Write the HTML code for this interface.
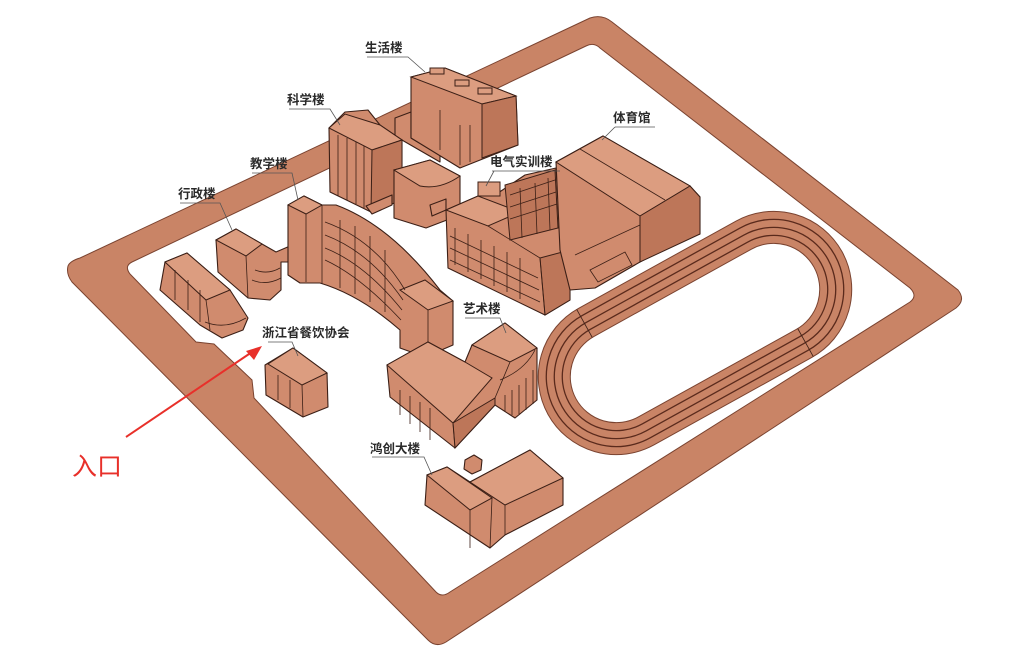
<!DOCTYPE html>
<html><head><meta charset="utf-8"><style>
html,body{margin:0;padding:0;background:#fff;}
svg{display:block;}
.l{font-family:"Liberation Sans","Noto Sans CJK SC",sans-serif;font-size:12.5px;font-weight:bold;fill:#2a2a2a;}
.b{fill:#d08b6e;stroke:#3b1f16;stroke-width:1.1;stroke-linejoin:round;}
.t{fill:#dc9d80;stroke:#3b1f16;stroke-width:1;}
.d{fill:#bd7659;stroke:#3b1f16;stroke-width:1;}
.ln{stroke:#3b1f16;stroke-width:0.8;fill:none;}
.ld{stroke:#555;stroke-width:0.8;fill:none;}
</style></head><body>
<svg width="1024" height="656" viewBox="0 0 1024 656" xmlns="http://www.w3.org/2000/svg">
<!-- road ring -->
<path fill-rule="evenodd" fill="#c98466" stroke="#7a4330" stroke-width="1" d="
M68,266 Q66,274 72,282 L428,640 Q436,648 446,642 L956,308 Q966,300 958,290 L612,22 Q602,14 590,18 L80,258 Q70,261 68,266 Z
M132,262 Q124,266 130,274 L196,342 L214,344 L252,380 L254,398 L436,592 Q442,598 450,592 L910,302 Q918,296 910,288 L600,48 Q594,42 586,46 Z"/>
<!-- track -->
<g transform="translate(695,333) rotate(-29)">
<rect x="-168" y="-78" width="336" height="156" rx="78" fill="#c98466" stroke="#7a4330" stroke-width="1"/>
<rect x="-160" y="-70" width="320" height="140" rx="70" fill="none" stroke="#5a2a1c" stroke-width="1.3"/>
<rect x="-152" y="-62" width="304" height="124" rx="62" fill="none" stroke="#5a2a1c" stroke-width="1.3"/>
<rect x="-144" y="-54" width="288" height="108" rx="54" fill="none" stroke="#5a2a1c" stroke-width="1.3"/>
<rect x="-136" y="-46" width="272" height="92" rx="46" fill="#fff" stroke="#7a4330" stroke-width="1"/>
<line x1="-92" y1="-78" x2="-92" y2="-46" class="ln"/>
<line x1="92" y1="46" x2="92" y2="78" class="ln"/>
</g>
<!-- 生活楼 -->
<polygon class="b" points="395,118 411,112 411,138 440,155 440,162 395,136"/>
<polygon class="b" points="411,77 445,68 516,96 518,145 460,168 411,138"/>
<polygon class="t" points="411,77 445,68 516,96 482,104"/>
<polygon class="d" points="482,104 516,96 518,145 482,158"/>
<rect x="430" y="68" width="14" height="6" class="t"/><rect x="455" y="80" width="14" height="6" class="t"/><rect x="478" y="88" width="14" height="6" class="t"/>
<path class="ln" d="M460,125 L460,165 M470,125 L470,162 M440,110 L440,150"/>
<!-- 科学楼 -->
<polygon class="b" points="329,128 345,112 368,110 380,125 402,140 402,200 371,212 330,192"/>
<polygon class="t" points="329,128 345,114 380,125 402,140 372,150"/>
<polygon class="d" points="372,150 402,140 402,200 371,212"/>
<path class="ln" d="M338,135 L338,196 M347,138 L347,200 M356,142 L356,204 M364,146 L364,208"/>
<polygon class="b" points="394,170 430,160 460,176 460,215 426,228 394,218"/>
<path class="t" d="M394,170 L430,160 L460,176 Q440,190 420,186 Z"/>
<polygon class="b" points="366,206 392,195 392,205 372,214"/>
<polygon class="b" points="430,205 446,199 446,210 432,216"/>
<!-- 行政楼 -->
<polygon class="b" points="216,240 236,229 262,244 276,252 290,246 302,253 292,262 281,262 281,290 270,300 248,298 218,272"/>
<polygon class="t" points="216,240 236,229 262,244 246,256"/>
<path class="ln" d="M246,256 L248,298 M255,270 Q268,275 280,268 M252,280 Q266,286 281,278"/>
<!-- 教学楼 -->
<path class="b" d="M288,205 L304,196 L322,205 L336,205 Q390,225 440,290 L453,301 L453,345 L425,357 L400,348 L400,330 Q360,295 320,283 L300,283 L288,275 Z"/>
<polygon class="t" points="288,205 304,196 322,205 306,214"/>
<polygon class="t" points="400,290 425,280 453,301 428,310"/>
<path class="ln" d="M306,214 L306,282 M322,205 L322,284 M428,310 L428,357"/>
<path class="ln" d="M325,222 Q375,240 405,290 M325,235 Q370,252 403,300 M325,248 Q365,264 402,310 M325,260 Q360,276 401,320 M340,220 L340,288 M355,226 L355,294 M370,236 L370,302 M385,250 L385,312"/>
<!-- unlabeled bldg -->
<polygon class="b" points="165,262 187,253 230,290 248,318 243,330 222,338 200,325 160,290"/>
<polygon class="t" points="165,262 187,253 230,290 206,300"/>
<path class="ln" d="M206,300 L210,330 M175,270 L175,300 M188,280 L188,310 M200,290 L200,322 M205,322 Q225,330 246,318"/>
<!-- 浙江省餐饮协会 -->
<polygon class="b" points="265,365 293,348 327,373 328,407 303,417 266,395"/>
<polygon class="t" points="268,364 293,348 327,373 302,385"/>
<path class="ln" d="M302,385 L303,417 M278,375 L278,400 M290,380 L290,408"/>
<!-- 电气实训楼 -->
<polygon class="b" points="446,210 478,196 495,195 525,175 556,168 560,230 570,250 570,300 545,315 448,268"/>
<polygon class="t" points="446,210 478,196 520,212 488,226"/>
<rect x="478" y="182" width="22" height="14" class="t"/>
<polygon class="d" points="505,185 555,170 558,228 510,240" fill="#a9644b"/>
<path class="ln" d="M510,195 L555,180 M510,207 L556,192 M510,219 L557,204 M520,188 L522,238 M535,183 L537,234 M548,178 L550,230"/>
<polygon class="d" points="540,258 570,250 570,300 545,315"/>
<path class="ln" d="M488,226 L540,258 L545,315 M455,228 L455,265 M468,234 L468,272 M481,240 L481,279 M494,246 L494,286 M507,252 L507,292 M520,258 L520,299 M450,236 L538,278 M450,248 L539,290 M450,260 L540,302"/>
<!-- 体育馆 -->
<polygon class="b" points="556,162 603,136 690,186 700,197 700,234 680,240 640,262 595,288 570,290 560,250"/>
<polygon class="t" points="556,162 603,136 690,186 640,216"/>
<polygon class="d" points="640,216 690,186 700,197 700,234 640,262"/>
<path class="ln" d="M580,149 L665,200 M640,216 L640,262 M575,255 L640,225 M590,270 L625,252 L632,265 L598,282 Z"/>
<!-- 艺术楼 -->
<polygon class="b" points="387,365 428,342 465,362 472,345 505,323 537,348 537,400 515,418 495,405 455,448 390,397"/>
<polygon class="t" points="387,365 428,342 465,362 492,378 453,423"/>
<polygon class="t" points="472,345 505,323 537,348 510,362"/>
<polygon class="d" points="453,423 495,398 495,405 455,448"/>
<path class="ln" d="M453,423 L455,448 M495,398 L510,362 M500,380 Q525,370 535,350 M505,395 L505,412 M512,390 L512,415 M519,385 L519,414 M526,378 L526,410 M533,370 L533,404 M400,390 L400,415 M410,396 L410,424 M420,402 L420,432 M430,408 L430,440"/>
<!-- 鸿创大楼 -->
<polygon class="b" points="427,475 447,467 470,482 530,450 563,478 563,505 505,535 490,548 425,505"/>
<polygon class="t" points="427,475 447,467 492,498 470,510"/>
<polygon class="t" points="470,482 530,450 563,478 505,505"/>
<path class="ln" d="M470,510 L470,548 M492,498 L490,548 M505,505 L505,535"/>
<polygon class="b" points="465,460 474,455 482,460 481,470 472,474 464,469"/>
<!-- labels + leaders -->
<text class="l" x="365" y="52">生活楼</text>
<path class="ld" d="M367,57 L408,57 L425,72"/>
<text class="l" x="287" y="104">科学楼</text>
<path class="ld" d="M289,109 L330,109 L340,125"/>
<text class="l" x="250" y="168">教学楼</text>
<path class="ld" d="M252,173 L292,173 L298,200"/>
<text class="l" x="178" y="198">行政楼</text>
<path class="ld" d="M180,203 L220,203 L232,230"/>
<text class="l" x="490" y="166">电气实训楼</text>
<path class="ld" d="M492,171 L560,171 M494,171 L486,186"/>
<text class="l" x="613" y="122">体育馆</text>
<path class="ld" d="M615,127 L655,127 M615,127 L602,140"/>
<text class="l" x="463" y="313">艺术楼</text>
<path class="ld" d="M465,318 L500,318 L506,333"/>
<text class="l" x="262" y="337">浙江省餐饮协会</text>
<path class="ld" d="M268,342 L292,342 L298,356"/>
<text class="l" x="370" y="453">鸿创大楼</text>
<path class="ld" d="M372,457 L424,457 L432,475"/>
<!-- entrance arrow -->
<line x1="126" y1="437" x2="252" y2="352" stroke="#e8302a" stroke-width="2"/>
<polygon points="262,346 246,351 254,360" fill="#e8302a"/>
<text x="72" y="475" font-family="Liberation Sans,Noto Sans CJK SC,sans-serif" font-size="25" fill="#e8302a">入口</text>
</svg>
</body></html>
